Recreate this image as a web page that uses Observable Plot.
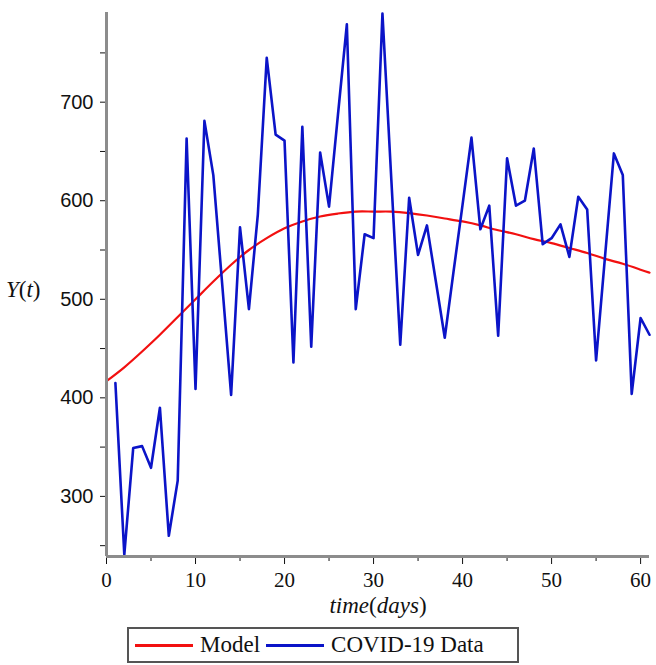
<!DOCTYPE html>
<html>
<head>
<meta charset="utf-8">
<script src="https://cdn.jsdelivr.net/npm/d3@7"></script>
<script src="https://cdn.jsdelivr.net/npm/@observablehq/plot@0.6"></script>
<style>
  html, body { margin: 0; padding: 0; background: #fff; }
  #wrap { position: relative; width: 656px; height: 665px; overflow: hidden; }
  #legend {
    position: absolute; left: 127px; top: 627px; width: 388px; height: 32px;
    border: 2px solid #555; display: flex; align-items: center;
    font-family: "Liberation Serif", serif; font-size: 23px; color: #111;
    box-sizing: content-box;
  }
  .sw { display: inline-block; width: 58px; height: 0; border-top: 3px solid; margin: 0 7px 0 6px; }
</style>
</head>
<body>
<div id="wrap"><div id="legend"></div></div>
<script>
// COVID-19 data (days 1..61)
const dataDays = d3.range(1, 62);
const dataValues = [415, 241, 349, 351, 329, 390, 260, 316, 663, 409,
  681, 626, 515, 403, 573, 490, 586, 745, 667, 661,
  436, 675, 452, 649, 594, 687, 779, 490, 566, 562,
  790, 621, 454, 603, 545, 575, 518, 461, 529, 596,
  664, 571, 595, 463, 643, 595, 600, 653, 556, 562,
  576, 543, 604, 591, 438, 543, 648, 626, 404, 481, 464];

// Model curve (read points)
const modelDays = [0, 2, 4, 6, 8, 10, 12, 14, 16, 18, 20, 22, 24, 26, 28, 30, 32, 34, 36, 38, 40, 42, 44, 46, 48, 50, 52, 54, 56, 58, 60, 61];
const modelValues = [417, 431, 447, 464, 482, 500, 518, 535, 550, 562, 572, 579, 584, 587, 589, 589, 589, 587.5, 585, 582, 579, 575, 570, 566, 561, 557, 552, 547, 541, 536, 530, 527];

const xMajorTicks = [0, 10, 20, 30, 40, 50, 60];
const xMinorTicks = [5, 15, 25, 35, 45, 55];
const yMajorTicks = [300, 400, 500, 600, 700];
const yMinorTicks = [250, 350, 450, 550, 650, 750];

const seriesNames = ["Model", "COVID-19 Data"];
const seriesColors = ["#f21010", "#0b14c8"];
const xTitle = "time(days)";
const yTitle = "Y(t)";

const covid = dataDays.map((d, i) => ({day: d, value: dataValues[i]}));
const model = modelDays.map((d, i) => ({day: d, value: modelValues[i]}));

const chart = Plot.plot({
  width: 656,
  height: 620,
  marginLeft: 106,
  marginRight: 7,
  marginTop: 12,
  marginBottom: 64,
  x: {domain: [0, 61], label: null},
  y: {domain: [239, 791], label: null},
  style: {background: "white", color: "#111"},
  marks: [
    Plot.axisY({ticks: yMinorTicks, tickSize: 6, tickFormat: () => "", label: null, stroke: "#111"}),
    Plot.axisY({ticks: yMajorTicks, tickSize: 6, tickPadding: 7, label: null,
      fontFamily: "Liberation Sans, Arial, sans-serif", fontSize: 20, stroke: "#111"}),
    Plot.axisX({ticks: xMinorTicks, tickSize: 5, tickFormat: () => "", label: null, stroke: "#111"}),
    Plot.axisX({ticks: xMajorTicks, tickSize: 8, tickPadding: 8, label: null,
      fontFamily: "Liberation Serif, serif", fontSize: 21, stroke: "#111"}),
    Plot.line(model, {x: "day", y: "value", stroke: seriesColors[0], strokeWidth: 2.2, curve: "natural"}),
    Plot.line(covid, {x: "day", y: "value", stroke: seriesColors[1], strokeWidth: 2.6, strokeLinejoin: "round"}),
    Plot.ruleX([0], {stroke: "#8c8c8c", strokeWidth: 3}),
    Plot.ruleY([239], {stroke: "#8c8c8c", strokeWidth: 3}),
    Plot.text([xTitle], {text: d => d, frameAnchor: "bottom", dy: 56,
      fontFamily: "Liberation Serif, serif", fontSize: 23, fill: "#111"}),
    Plot.text([yTitle], {text: d => d, frameAnchor: "left", dx: -66, dy: 5, textAnchor: "end",
      fontFamily: "Liberation Serif, serif", fontSize: 23, fill: "#111"})
  ]
});

// Mixed italic/upright title styling (Maple-like)
function styleTitle(svg, str, parts) {
  d3.select(svg).selectAll("text").filter(function() { return this.textContent === str; })
    .each(function() {
      const t = d3.select(this);
      t.text(null);
      parts.forEach(([s, it]) => t.append("tspan").text(s).attr("font-style", it ? "italic" : "normal"));
    });
}
styleTitle(chart, xTitle, [["time", true], ["(", false], ["days", true], [")", false]]);
styleTitle(chart, yTitle, [["Y", true], ["(", false], ["t", true], [")", false]]);

document.getElementById("wrap").prepend(chart);

const legend = d3.select("#legend");
seriesNames.forEach((n, i) => {
  legend.append("span").attr("class", "sw").style("border-color", seriesColors[i]);
  legend.append("span").text(n);
});
</script>
</body>
</html>
